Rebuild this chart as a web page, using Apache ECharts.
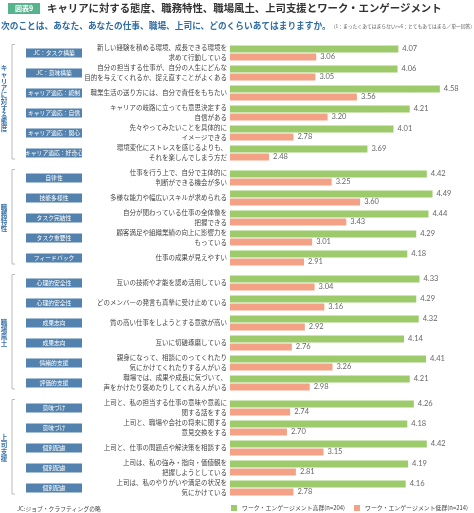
<!DOCTYPE html>
<html>
<head>
<meta charset="utf-8">
<script src="https://cdn.jsdelivr.net/npm/echarts@6/dist/echarts.min.js"></script>
<style>
  html, body { margin: 0; padding: 0; background: #fff; }
  #main { width: 474px; height: 513px; }
</style>
</head>
<body>
<div id="main"></div>
<script>
// グループ名
const groupNames = ['キャリアに対する態度', '職務特性', '職場風土', '上司支援']

// キャリアに対する態度
const g1Tags = ['JC：タスク構築', 'JC：意味構築', 'キャリア適応：統制', 'キャリア適応：自信', 'キャリア適応：関心', 'キャリア適応：好奇心']
const g1Items = [
  '新しい経験を積める環境、成長できる環境を\n求めて行動している',
  '自分の担当する仕事が、自分の人生にどんな\n目的を与えてくれるか、捉え直すことがよくある',
  '職業生活の送り方には、自分で責任をもちたい',
  'キャリアの岐路に立っても意思決定する\n自信がある',
  '先々やってみたいことを具体的に\nイメージできる',
  '環境変化にストレスを感じるよりも、\nそれを楽しんでしまう方だ',
]
const g1High = [4.07, 4.06, 4.58, 4.21, 4.01, 3.69]
const g1Low = [3.06, 3.05, 3.56, 3.20, 2.78, 2.48]

// 職務特性
const g2Tags = ['自律性', '技能多様性', 'タスク完結性', 'タスク重要性', 'フィードバック']
const g2Items = [
  '仕事を行う上で、自分で主体的に\n判断ができる機会が多い',
  '多様な能力や幅広いスキルが求められる',
  '自分が関わっている仕事の全体像を\n把握できる',
  '顧客満足や組織業績の向上に影響力を\nもっている',
  '仕事の成果が見えやすい',
]
const g2High = [4.42, 4.49, 4.44, 4.29, 4.18]
const g2Low = [3.25, 3.60, 3.43, 3.01, 2.91]

// 職場風土
const g3Tags = ['心理的安全性', '心理的安全性', '成果志向', '成果志向', '情緒的支援', '評価的支援']
const g3Items = [
  '互いの技術や才能を認め活用している',
  'どのメンバーの発言も真摯に受け止めている',
  '質の高い仕事をしようとする意欲が高い',
  '互いに切磋琢磨している',
  '親身になって、相談にのってくれたり\n気にかけてくれたりする人がいる',
  '職場では、成果や成長に気づいて、\n声をかけたり褒めたりしてくれる人がいる',
]
const g3High = [4.33, 4.29, 4.32, 4.14, 4.41, 4.21]
const g3Low = [3.04, 3.16, 2.92, 2.76, 3.26, 2.98]

// 上司支援
const g4Tags = ['意味づけ', '意味づけ', '個別配慮', '個別配慮', '個別配慮']
const g4Items = [
  '上司と、私の担当する仕事の意味や意義に\n関する話をする',
  '上司と、職場や会社の将来に関する\n意見交換をする',
  '上司と、仕事の問題点や解決策を相談する',
  '上司は、私の強み・指向・価値観を\n把握しようとしている',
  '上司は、私のやりがいや満足の状況を\n気にかけている',
]
const g4High = [4.26, 4.18, 4.42, 4.19, 4.16]
const g4Low = [2.74, 2.70, 3.15, 2.81, 2.78]

const highName = 'ワーク・エンゲージメント高群(n=204)'
const lowName = 'ワーク・エンゲージメント低群(n=214)'

const groups = [
  { tags: g1Tags, items: g1Items, high: g1High, low: g1Low },
  { tags: g2Tags, items: g2Items, high: g2High, low: g2Low },
  { tags: g3Tags, items: g3Items, high: g3High, low: g3Low },
  { tags: g4Tags, items: g4Items, high: g4High, low: g4Low },
]

const font = '"Noto Sans CJK JP", "Noto Sans", sans-serif'
const green = '#9dcb6c'
const orange = '#f3a285'
const rowH = 20
const gridTops = [43, 168, 273, 398]
const gridLeft = 230

const grid = []
const xAxis = []
const yAxis = []
const series = []
const graphics = []

groups.forEach((g, i) => {
  const h = g.items.length * rowH
  grid.push({ left: gridLeft, top: gridTops[i], width: 265, height: h })
  xAxis.push({
    type: 'value', gridIndex: i, min: 2, max: 5,
    show: false, splitLine: { show: false },
  })
  yAxis.push({
    type: 'category', gridIndex: i, inverse: true, data: g.items,
    axisLine: { show: false }, axisTick: { show: false },
    axisLabel: {
      interval: 0, margin: 3, fontSize: 6.5, lineHeight: 10,
      color: '#444', fontFamily: font, align: 'right',
    },
  })
  yAxis.push({
    type: 'category', gridIndex: i, inverse: true, data: g.tags,
    position: 'left',
    axisLine: { show: false }, axisTick: { show: false },
    axisLabel: {
      interval: 0, margin: 148,
      formatter: (v) => '{t|' + v + '}',
      rich: {
        t: {
          backgroundColor: '#5282ad', color: '#fff', width: 56, height: 9,
          lineHeight: 9, align: 'center', fontSize: 5.8, fontFamily: font,
        },
      },
    },
  })
  const lbl = {
    show: true, position: 'right', distance: 4, fontSize: 7.5,
    color: '#666', fontFamily: 'Lato, sans-serif',
    formatter: (p) => p.value.toFixed(2),
  }
  series.push({
    name: highName, type: 'bar', xAxisIndex: i, yAxisIndex: i * 2,
    data: g.high, barWidth: 7, barGap: '14%', itemStyle: { color: green },
    label: lbl, silent: true,
  })
  series.push({
    name: lowName, type: 'bar', xAxisIndex: i, yAxisIndex: i * 2,
    data: g.low, barWidth: 7, barGap: '14%', itemStyle: { color: orange },
    label: lbl, silent: true,
  })

  // 括弧とグループ名
  const top = gridTops[i] + 1.5
  const bottom = gridTops[i] + h - 4
  graphics.push({
    type: 'polyline',
    shape: { points: [[15, top], [12, top], [12, bottom], [15, bottom]] },
    style: { stroke: '#bbb', lineWidth: 1, fill: null },
  })
  graphics.push({
    type: 'text', x: 4, y: gridTops[i] + h / 2 - (i === 0 ? 5 : 0),
    style: {
      text: groupNames[i].split('').join('\n'),
      fontSize: 6.6, lineHeight: 6.8, fontWeight: 'bold', fill: '#3a73ab',
      fontFamily: font, align: 'center', verticalAlign: 'middle',
    },
  })
})

// タイトル部分
graphics.push(
  { type: 'rect', shape: { x: 8, y: 3, width: 32, height: 11 }, style: { fill: '#55b48c' } },
  {
    type: 'text', x: 24, y: 8.5,
    style: { text: '図表9', fontSize: 7, fontWeight: 'bold', fill: '#fff', fontFamily: font, align: 'center', verticalAlign: 'middle' },
  },
  {
    type: 'text', x: 47, y: 8.5,
    style: { text: 'キャリアに対する態度、職務特性、職場風土、上司支援とワーク・エンゲージメント', fontSize: 10.4, fontWeight: 'bold', fill: '#333', fontFamily: font, verticalAlign: 'middle' },
  },
  {
    type: 'text', x: 1, y: 26,
    style: {
      text: '{a|次のことは、あなた、あなたの仕事、職場、上司に、どのくらいあてはまりますか。}{b|（1：まったくあてはまらない～6：とてもあてはまる／単一回答）}',
      verticalAlign: 'middle', fontFamily: font,
      rich: {
        a: { fontSize: 8.7, fontWeight: 'bold', fill: '#2d6ba3', fontFamily: font },
        b: { fontSize: 4.8, fill: '#555', fontFamily: font },
      },
    },
  },
  {
    type: 'text', x: 17, y: 509,
    style: { text: 'JC:ジョブ・クラフティングの略', fontSize: 5.8, fill: '#444', fontFamily: font, verticalAlign: 'middle' },
  }
)

const chart = echarts.init(document.getElementById('main'))
chart.setOption({
  animation: false,
  backgroundColor: '#fff',
  textStyle: { fontFamily: font },
  legend: {
    data: [highName, lowName],
    left: 231, top: 505, width: 300, padding: 0, icon: 'rect',
    itemWidth: 6, itemHeight: 6, itemGap: 9,
    textStyle: { fontSize: 5.9, color: '#444', fontFamily: font },
  },
  grid: grid,
  xAxis: xAxis,
  yAxis: yAxis,
  series: series,
  graphic: graphics,
})
</script>
</body>
</html>
